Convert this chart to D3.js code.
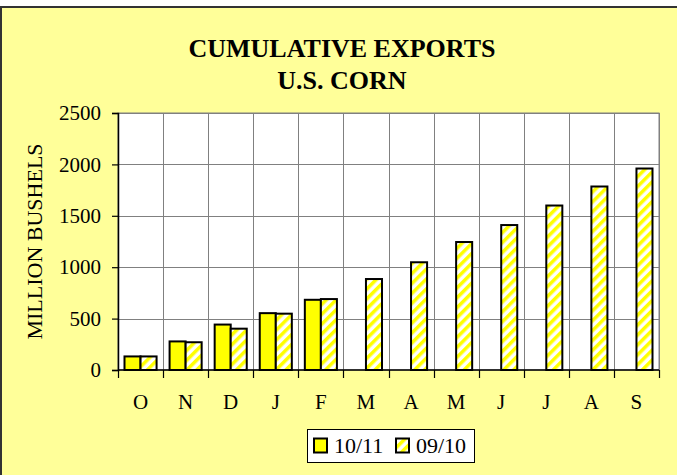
<!DOCTYPE html>
<html>
<head>
<meta charset="utf-8">
<script src="https://cdn.jsdelivr.net/npm/d3@7/dist/d3.min.js"></script>
<style>
  html, body { margin: 0; padding: 0; background: #ffffff; }
  svg { display: block; }
</style>
</head>
<body>
<div id="chart"></div>
<script>
const months = ['O', 'N', 'D', 'J', 'F', 'M', 'A', 'M', 'J', 'J', 'A', 'S']
const seriesNames = ['10/11', '09/10']
const exports1011 = [132, 278, 442, 553, 683]
const exports0910 = [132, 270, 402, 548, 690, 885, 1048, 1245, 1410, 1600, 1785, 1960]
const yTicks = [0, 500, 1000, 1500, 2000, 2500]

const width = 677
const height = 475
const font = '"Liberation Serif", "Times New Roman", serif'
const bgFill = '#ffff99'
const barYellow = '#ffff00'

const svg = d3.select('#chart')
  .append('svg')
  .attr('width', width)
  .attr('height', height)
  .style('font-family', font)

const defs = svg.append('defs')
const stripes = defs.append('pattern')
  .attr('id', 'stripes')
  .attr('patternUnits', 'userSpaceOnUse')
  .attr('width', 7)
  .attr('height', 7)
  .attr('patternTransform', 'rotate(45)')
stripes.append('rect').attr('width', 7).attr('height', 7).attr('fill', '#ffffff')
stripes.append('rect').attr('width', 3.5).attr('height', 7).attr('fill', barYellow)

// chart area
svg.append('rect')
  .attr('x', 1)
  .attr('y', 7)
  .attr('width', 720)
  .attr('height', 520)
  .attr('fill', bgFill)
  .attr('stroke', '#333333')
  .attr('stroke-width', 2)

svg.append('text')
  .attr('x', 342)
  .attr('y', 57)
  .attr('text-anchor', 'middle')
  .attr('font-size', 26)
  .attr('font-weight', 'bold')
  .text('CUMULATIVE EXPORTS')

svg.append('text')
  .attr('x', 342)
  .attr('y', 89)
  .attr('text-anchor', 'middle')
  .attr('font-size', 26)
  .attr('font-weight', 'bold')
  .text('U.S. CORN')

const plot = { left: 118, right: 659, top: 113, bottom: 370 }

const x = d3.scaleBand()
  .domain(d3.range(months.length))
  .range([plot.left, plot.right])
  .padding(0)

const xInner = d3.scaleBand()
  .domain(seriesNames)
  .range([6.5, x.bandwidth() - 6.5])
  .padding(0)

const y = d3.scaleLinear()
  .domain([0, 2500])
  .range([plot.bottom, plot.top])

// plot area
svg.append('rect')
  .attr('x', plot.left)
  .attr('y', plot.top)
  .attr('width', plot.right - plot.left)
  .attr('height', plot.bottom - plot.top)
  .attr('fill', '#ffffff')
  .attr('stroke', '#808080')
  .attr('stroke-width', 1)

// grid lines
svg.append('g')
  .selectAll('line')
  .data(yTicks.slice(1))
  .join('line')
  .attr('x1', plot.left)
  .attr('x2', plot.right)
  .attr('y1', (d) => Math.round(y(d)) + 0.5)
  .attr('y2', (d) => Math.round(y(d)) + 0.5)
  .attr('stroke', '#808080')
  .attr('stroke-width', 1)

svg.append('g')
  .selectAll('line')
  .data(d3.range(1, months.length + 1))
  .join('line')
  .attr('x1', (d) => Math.round(plot.left + d * x.bandwidth()) + 0.5)
  .attr('x2', (d) => Math.round(plot.left + d * x.bandwidth()) + 0.5)
  .attr('y1', plot.top)
  .attr('y2', plot.bottom)
  .attr('stroke', '#808080')
  .attr('stroke-width', 1)

// bars
const bars = svg.append('g')
bars.selectAll('rect.s1011')
  .data(exports1011)
  .join('rect')
  .attr('class', 's1011')
  .attr('x', (d, i) => x(i) + xInner('10/11'))
  .attr('y', (d) => y(d))
  .attr('width', xInner.bandwidth())
  .attr('height', (d) => y(0) - y(d))
  .attr('fill', barYellow)
  .attr('stroke', '#000000')
  .attr('stroke-width', 2)

bars.selectAll('rect.s0910')
  .data(exports0910)
  .join('rect')
  .attr('class', 's0910')
  .attr('x', (d, i) => x(i) + xInner('09/10'))
  .attr('y', (d) => y(d))
  .attr('width', xInner.bandwidth())
  .attr('height', (d) => y(0) - y(d))
  .attr('fill', 'url(#stripes)')
  .attr('stroke', '#000000')
  .attr('stroke-width', 2)

// y axis
const yAxis = svg.append('g')
  .attr('transform', `translate(${plot.left},0)`)
  .call(d3.axisLeft(y).tickValues(yTicks).tickFormat(d3.format('d')).tickSize(6).tickPadding(11))
yAxis.select('.domain').attr('stroke', '#000000').attr('stroke-width', 1.5)
yAxis.selectAll('.tick line').attr('stroke', '#000000').attr('stroke-width', 1.2)
yAxis.selectAll('.tick text')
  .attr('font-family', font)
  .attr('font-size', 21)
  .attr('fill', '#000000')

// x axis
svg.append('line')
  .attr('x1', plot.left)
  .attr('x2', plot.right)
  .attr('y1', plot.bottom)
  .attr('y2', plot.bottom)
  .attr('stroke', '#000000')
  .attr('stroke-width', 1.5)

svg.append('g')
  .selectAll('line')
  .data(d3.range(0, months.length + 1))
  .join('line')
  .attr('x1', (d) => Math.round(plot.left + d * x.bandwidth()) + 0.5)
  .attr('x2', (d) => Math.round(plot.left + d * x.bandwidth()) + 0.5)
  .attr('y1', plot.bottom)
  .attr('y2', plot.bottom + 8)
  .attr('stroke', '#000000')
  .attr('stroke-width', 1.2)

svg.append('g')
  .selectAll('text')
  .data(months)
  .join('text')
  .attr('x', (d, i) => x(i) + x.bandwidth() / 2)
  .attr('y', 409)
  .attr('text-anchor', 'middle')
  .attr('font-size', 21)
  .text((d) => d)

svg.append('text')
  .attr('transform', `translate(42,${(plot.top + plot.bottom) / 2}) rotate(-90)`)
  .attr('text-anchor', 'middle')
  .attr('font-size', 22)
  .text('MILLION BUSHELS')

// legend
const legend = svg.append('g')
legend.append('rect')
  .attr('x', 307.5)
  .attr('y', 429.5)
  .attr('width', 167)
  .attr('height', 33)
  .attr('fill', '#ffffff')
  .attr('stroke', '#000000')
  .attr('stroke-width', 1)

const legendItems = [
  { name: seriesNames[0], fill: barYellow, x: 314 },
  { name: seriesNames[1], fill: 'url(#stripes)', x: 396 }
]
legendItems.forEach((item) => {
  legend.append('rect')
    .attr('x', item.x)
    .attr('y', 438.5)
    .attr('width', 13)
    .attr('height', 14)
    .attr('fill', item.fill)
    .attr('stroke', '#000000')
    .attr('stroke-width', 2)
  legend.append('text')
    .attr('x', item.x + 20)
    .attr('y', 453)
    .attr('font-size', 22)
    .text(item.name)
})
</script>
</body>
</html>
